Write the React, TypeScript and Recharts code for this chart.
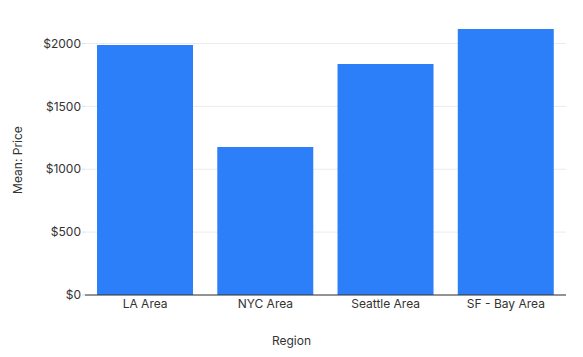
import React from 'react';
import { BarChart, Bar, XAxis, YAxis, CartesianGrid } from 'recharts';

const regions = ['LA Area', 'NYC Area', 'Seattle Area', 'SF - Bay Area'];
const meanPrice = [1988, 1177, 1837, 2115];
const yTicks = [0, 500, 1000, 1500, 2000];

const data = regions.map((region, i) => ({ region, price: meanPrice[i] }));
const yMax = Math.max(...meanPrice);

const FONT = 'Inter, "Liberation Sans", Arial, sans-serif';

// grid lines only at the tick values (no line along the top edge)
const gridLines = ({ offset }: any) =>
    yTicks.map((t) => offset.top + offset.height * (1 - t / yMax));

const App: React.FC = () => (
    <div style={{ position: 'absolute', left: 0, top: 0 }}>
        <BarChart
            width={583}
            height={357}
            data={data}
            margin={{ top: 29, right: 17, bottom: 0, left: 0 }}
            barCategoryGap="10%"
            style={{ fontFamily: FONT }}
        >
            <CartesianGrid vertical={false} stroke="#ebebeb" horizontalCoordinatesGenerator={gridLines} />
            <XAxis
                dataKey="region"
                height={62}
                tickLine={false}
                tickSize={0}
                tickMargin={4}
                axisLine={{ stroke: '#333' }}
                tick={{ fontSize: 12, fill: '#333' }}
                label={{
                    content: () => (
                        <text x={291.5} y={345} textAnchor="middle" fontSize={12} fill="#333">
                            Region
                        </text>
                    ),
                }}
            />
            <YAxis
                width={85}
                domain={[0, yMax]}
                ticks={yTicks}
                tickFormatter={(v: number) => `$${v}`}
                axisLine={false}
                tickLine={{ stroke: '#ddd' }}
                tickSize={3}
                tickMargin={1}
                tick={{ fontSize: 12, fill: '#333' }}
                label={{
                    content: () => (
                        <text
                            x={17}
                            y={160}
                            textAnchor="middle"
                            dominantBaseline="central"
                            fontSize={12}
                            fill="#333"
                            transform="rotate(-90, 17, 160)"
                        >
                            Mean: Price
                        </text>
                    ),
                }}
            />
            <Bar dataKey="price" fill="#2d7ff9" isAnimationActive={false} />
        </BarChart>
    </div>
);

export default App;
